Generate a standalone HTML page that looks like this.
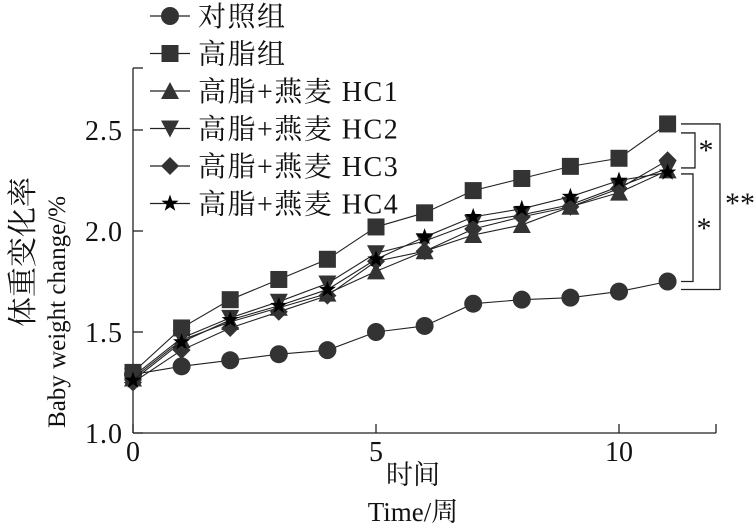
<!DOCTYPE html>
<html><head><meta charset="utf-8"><style>
html,body{margin:0;padding:0;background:#fff;}
svg text{font-family:"Liberation Serif","Noto Serif CJK SC",serif;fill:#111;}
</style></head><body>
<svg id="chart" width="754" height="526" viewBox="0 0 754 526" xmlns="http://www.w3.org/2000/svg"></svg>
<script>
const xValues=[0,1,2,3,4,5,6,7,8,9,10,11];
const seriesNames=["对照组","高脂组","高脂+燕麦 HC1","高脂+燕麦 HC2","高脂+燕麦 HC3","高脂+燕麦 HC4"];
const control=[1.29,1.33,1.36,1.39,1.41,1.50,1.53,1.64,1.66,1.67,1.70,1.75];
const highFat=[1.30,1.52,1.66,1.76,1.86,2.02,2.09,2.20,2.26,2.32,2.36,2.53];
const hc1=[1.27,1.46,1.55,1.62,1.69,1.80,1.90,1.98,2.03,2.12,2.19,2.30];
const hc2=[1.28,1.47,1.57,1.65,1.74,1.89,1.95,2.04,2.08,2.13,2.22,2.31];
const hc3=[1.25,1.41,1.52,1.60,1.68,1.85,1.90,2.01,2.07,2.12,2.21,2.35];
const hc4=[1.26,1.45,1.56,1.63,1.71,1.86,1.97,2.07,2.11,2.17,2.25,2.29];
const yTicks=[1.0,1.5,2.0,2.5];
const yTickLabels=["1.0","1.5","2.0","2.5"];
const xTicks=[0,5,10];
const xTickLabels=["0","5","10"];

const svg=document.getElementById('chart');
const NS="http://www.w3.org/2000/svg";
const X0=133,XS=48.6,Y0=433,YS=202;
const xs=v=>X0+v*XS, ys=v=>Y0-(v-1)*YS;
function mk(tag,attrs,parent){const e=document.createElementNS(NS,tag);for(const k in attrs)e.setAttribute(k,attrs[k]);(parent||svg).appendChild(e);return e;}
function marker(type,cx,cy,g,fill){
  let e;
  if(type==='circle'){e=mk('circle',{cx,cy,r:9,fill},g);}
  else if(type==='square'){e=mk('rect',{x:cx-8.5,y:cy-8.5,width:17,height:17,fill},g);}
  else if(type==='up'){e=mk('polygon',{points:`${cx},${cy-9} ${cx+9},${cy+8} ${cx-9},${cy+8}`,fill},g);}
  else if(type==='down'){e=mk('polygon',{points:`${cx-9},${cy-8} ${cx+9},${cy-8} ${cx},${cy+9}`,fill},g);}
  else if(type==='diamond'){e=mk('polygon',{points:`${cx},${cy-9} ${cx+9},${cy} ${cx},${cy+9} ${cx-9},${cy}`,fill},g);}
  else {let p=[];for(let i=0;i<10;i++){const r=i%2?3.6:9,a=-Math.PI/2+i*Math.PI/5;p.push((cx+r*Math.cos(a)).toFixed(1)+','+(cy+r*Math.sin(a)).toFixed(1));}e=mk('polygon',{points:p.join(' '),fill},g);}
  
  
}
const ax=mk('g',{stroke:'#222','stroke-width':1.3,fill:'none'});


mk('line',{x1:X0,y1:68,x2:X0,y2:Y0},ax);
mk('line',{x1:X0,y1:68,x2:X0+10,y2:68},ax);
mk('line',{x1:X0,y1:Y0,x2:716,y2:Y0},ax);
mk('line',{x1:716,y1:Y0,x2:716,y2:Y0-9},ax);
yTicks.forEach((v,i)=>{
  mk('line',{x1:X0,y1:ys(v),x2:X0+10,y2:ys(v)},ax);
  const t=mk('text',{x:123,y:ys(v)+10,'text-anchor':'end','font-size':28,'letter-spacing':1});
  t.textContent=yTickLabels[i];
  
  
});
xTicks.forEach((v,i)=>{
  mk('line',{x1:xs(v),y1:Y0,x2:xs(v),y2:Y0-9},ax);
  const t=mk('text',{x:xs(v),y:461,'text-anchor':'middle','font-size':28});
  t.textContent=xTickLabels[i];
  
  
});
let t=mk('text',{x:413,y:484,'text-anchor':'middle','font-size':27});t.textContent='时间';

t=mk('text',{x:413,y:521,'text-anchor':'middle','font-size':27});t.textContent='Time/周';

t=mk('text',{x:0,y:0,'text-anchor':'middle','font-size':30,transform:'translate(33,252) rotate(-90)'});t.textContent='体重变化率';

t=mk('text',{x:0,y:0,'text-anchor':'middle','font-size':25,transform:'translate(65,312) rotate(-90)'});t.textContent='Baby weight change/%';

const allSeries=[control,highFat,hc1,hc2,hc3,hc4];
const types=['circle','square','up','down','diamond','star'];
const fills=['#333','#333','#333','#333','#333','#000'];
allSeries.forEach((s,k)=>{
  const g=mk('g',{});
  
  
  mk('polyline',{points:s.map((v,i)=>xs(xValues[i])+','+ys(v)).join(' '),fill:'none',stroke:'#222','stroke-width':1.1},g);
  s.forEach((v,i)=>marker(types[k],xs(xValues[i]),ys(v),g,fills[k]));
});
const lg=mk('g',{});


seriesNames.forEach((n,k)=>{
  const y=16+k*37.5;
  const g=mk('g',{},lg);
  
  
  mk('line',{x1:150,y1:y,x2:190,y2:y,stroke:'#222','stroke-width':1.3},g);
  marker(types[k],170,y,g,fills[k]);
  const tt=mk('text',{x:198,y:y+10,'font-size':28,'letter-spacing':1.5},g);tt.textContent=n;
});
const br=mk('g',{stroke:'#222','stroke-width':1.3,fill:'none'});


const yH=ys(highFat[11]),yC=ys(control[11]);
mk('polyline',{points:`681,${yH+9} 695,${yH+9} 695,${yH+44} 681,${yH+44}`},br);
mk('polyline',{points:`681,${yH+50} 693,${yH+50} 693,${yC} 681,${yC}`},br);
mk('polyline',{points:`681,${yH} 720,${yH} 720,${yC+8} 681,${yC+8}`},br);
[[706,160,'*'],[704,238,'*'],[740,213,'**']].forEach(a=>{
  const s=mk('text',{x:a[0],y:a[1],'text-anchor':'middle','font-size':30});s.textContent=a[2];
  
  
});
</script>
</body></html>
